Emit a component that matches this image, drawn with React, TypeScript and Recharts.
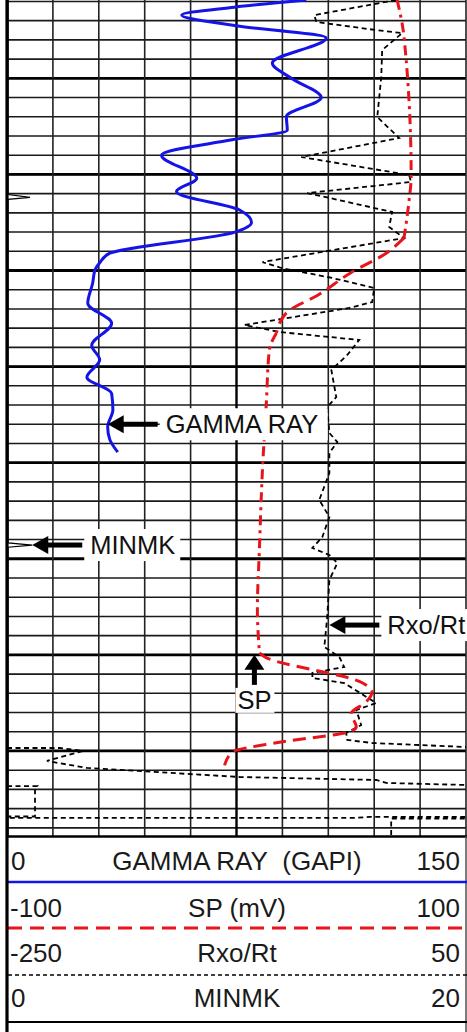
import { LineChart, Line, XAxis, YAxis, ReferenceLine, ReferenceDot } from 'recharts'

// depth in ft, minor grid every 2 ft, heavy line every 10 ft
const depthDomain = [1.85, 88.85]
const depthLines = Array.from({ length: 44 }, (_, i) => 2 + i * 2)
const depthMajor = [10, 20, 30, 40, 50, 60, 70, 80]
const grLines = [15, 30, 45, 60, 90, 105, 120, 135, 150]
const grMajor = [75]

// [depth, value]
const gammaRay = [
  [1.85, 97.8], [2.6, 74.3], [3.4, 57.1], [4.5, 74.3], [5.8, 104.3], [8.4, 86.7],
  [10.0, 92.9], [12.0, 102.7], [14.0, 91.3], [15.4, 91.6], [16.4, 73.5], [18.0, 50.5],
  [20.4, 62.0], [21.8, 55.4], [23.7, 76.0], [25.0, 79.9], [26.0, 74.5], [28.2, 33.6],
  [29.2, 30.3], [30.0, 28.7], [31.3, 28.0], [33.4, 26.4], [35.5, 34.2], [37.8, 27.7],
  [39.3, 30.3], [41.1, 26.1], [42.8, 34.2], [44.5, 34.6], [46.3, 32.9], [47.6, 33.6],
  [48.9, 36.2],
]

// SP split where the log switches between dash-dot and dashed trace
const spTop = [
  [1.85, 70.0], [5.7, 73.0], [20.3, 76.1], [22.7, 75.2], [26.6, 73.0],
]
const spBreak = [
  [26.6, 73.0], [28.2, 65.2], [30.2, 50.0], [32.6, 35.2], [34.3, 22.2], [36.5, 17.4],
]
const spMid = [
  [36.5, 17.4], [38.3, 14.3], [43.8, 13.0], [50.8, 11.3], [58.9, 10.0], [65.3, 9.1], [69.8, 10.0],
]
const spBase = [
  [69.8, 10.0], [70.2, 12.2], [72.9, 54.8], [73.9, 59.1], [74.9, 56.5], [76.1, 50.0],
  [77.5, 52.2], [78.0, 49.1], [79.1, 18.7], [80.1, -1.7], [81.5, -5.2],
]

const rxoRt = [
  [1.85, 4.3], [3.42, -49.1], [4.14, -47.8], [4.98, -8.7], [5.29, 8.3], [7.06, -4.8],
  [9.87, -5.4], [14.03, -8.0], [16.21, 6.3], [18.19, -57.6], [20.06, 12.8], [20.79, 14.1],
  [21.94, -53.7], [23.91, 1.7], [25.48, -0.2], [26.62, 9.6], [29.12, -83.0], [29.74, -70.7],
  [30.78, -37.4], [31.82, -10.0], [33.28, -11.3], [33.9, -26.3], [35.67, -94.8], [36.4, -72.0],
  [37.23, -19.8], [38.79, -27.6], [40.36, -38.0], [43.17, -34.8], [44.21, -40.7], [46.91, -39.3],
  [47.85, -34.1], [48.99, -39.3], [51.07, -39.3], [53.88, -45.9], [55.65, -39.3], [57.73, -43.9],
  [58.88, -50.4], [59.61, -39.3], [60.44, -34.1], [62.21, -39.3], [66.06, -40.7], [69.18, -42.6],
  [70.22, -32.8], [71.26, -29.6], [71.88, -50.4], [72.41, -50.4], [72.93, -29.6], [75.01, -8.7],
  [75.74, -21.7], [77.3, -18.5], [78.13, -28.3], [78.86, -27.6], [79.17, -11.3], [79.59, 50.0],
]

// backup scales once the curve runs off the track
const rxoBackup = [
  [79.69, 50], [79.69, 84.6], [80.0, 99.6], [81.04, 76.1], [81.77, 102.2], [82.71, 202.0],
  [83.02, 291.3], [83.33, 297.8], [83.54, 350],
]
const rxoBackup2 = [
  [83.65, 350], [83.65, 369.6], [83.85, 368.3], [86.82, 368.3], [86.82, 350], [86.97, 350],
  [86.97, 575.7], [86.87, 586.7], [86.87, 650], [87.03, 650], [87.03, 601.1], [88.85, 601.1],
]

const minmk = [
  [1.85, 0.05], [22.1, 0.05], [22.4, 1.0], [22.6, 0.05], [58.35, 0.05], [58.57, 1.1],
  [58.8, 0.05], [88.85, 0.05],
]

const rows = (pts: number[][]) => pts.map(([d, v]) => ({ d, v }))

const FONT = '"Liberation Sans", Arial, sans-serif'
const BLUE = '#1414e6'
const RED = '#e8141c'

const LeftArrow = (props: any) => {
  const { cx, cy, text, boxW } = props
  return (
    <g>
      <rect x={cx + 52} y={cy - 16} width={boxW} height={32} fill="#fff" />
      <polygon points={`${cx},${cy} ${cx + 16},${cy - 9} ${cx + 16},${cy + 9}`} fill="#000" />
      <rect x={cx + 15} y={cy - 2.5} width={35} height={5} fill="#000" />
      <text x={cx + 58} y={cy + 8.5} fontSize={25.5} fontFamily={FONT} fill="#111">{text}</text>
    </g>
  )
}

const UpArrow = (props: any) => {
  const { cx, cy, text } = props
  return (
    <g>
      <rect x={cx - 19} y={cy + 33} width={39} height={25} fill="#fff" />
      <polygon points={`${cx},${cy} ${cx - 10},${cy + 15} ${cx + 10},${cy + 15}`} fill="#000" />
      <rect x={cx - 2.5} y={cy + 14} width={5} height={16} fill="#000" />
      <text x={cx} y={cy + 54} fontSize={25.5} fontFamily={FONT} fill="#111" textAnchor="middle">{text}</text>
    </g>
  )
}

const spLine = (pts: number[][], dash: string, key: string) => (
  <Line key={key} data={rows(pts)} xAxisId="sp" dataKey="v" type="monotone" stroke={RED} strokeWidth={3}
    strokeDasharray={dash} dot={false} activeDot={false} isAnimationActive={false} />
)

export default function App() {
  return (
    <div style={{ position: 'absolute', left: 0, top: 0, width: 467, height: 1032, background: '#fff' }}>
      <LineChart width={467} height={836} layout="vertical" margin={{ top: 0, right: 1, bottom: 0, left: 7 }}>
        <XAxis xAxisId="gr" type="number" domain={[0, 150]} hide allowDataOverflow />
        <XAxis xAxisId="sp" type="number" domain={[-100, 100]} hide allowDataOverflow />
        <XAxis xAxisId="rxo" type="number" domain={[-250, 50]} hide allowDataOverflow />
        <XAxis xAxisId="rxo2" type="number" domain={[50, 350]} hide allowDataOverflow />
        <XAxis xAxisId="rxo3" type="number" domain={[350, 650]} hide allowDataOverflow />
        <XAxis xAxisId="mk" type="number" domain={[0, 20]} hide allowDataOverflow />
        <YAxis type="number" dataKey="d" domain={depthDomain} hide allowDataOverflow />

        {depthLines.map((d) => (
          <ReferenceLine key={'h' + d} xAxisId="gr" y={d} stroke="#1a1a1a" strokeWidth={1.6} />
        ))}
        {depthMajor.map((d) => (
          <ReferenceLine key={'H' + d} xAxisId="gr" y={d} stroke="#000" strokeWidth={2.8} />
        ))}
        {grLines.map((x) => (
          <ReferenceLine key={'v' + x} xAxisId="gr" x={x} stroke="#222" strokeWidth={1.6} />
        ))}
        {grMajor.map((x) => (
          <ReferenceLine key={'V' + x} xAxisId="gr" x={x} stroke="#000" strokeWidth={2.4} />
        ))}

        <Line data={rows(minmk)} xAxisId="mk" dataKey="v" type="linear" stroke="#000" strokeWidth={1.2} dot={false} activeDot={false} isAnimationActive={false} />
        <Line data={rows(rxoRt)} xAxisId="rxo" dataKey="v" type="linear" stroke="#000" strokeWidth={1.8} strokeDasharray="5 3.5" dot={false} activeDot={false} isAnimationActive={false} />
        <Line data={rows(rxoBackup)} xAxisId="rxo2" dataKey="v" type="linear" stroke="#000" strokeWidth={1.8} strokeDasharray="5 3.5" dot={false} activeDot={false} isAnimationActive={false} />
        <Line data={rows(rxoBackup2)} xAxisId="rxo3" dataKey="v" type="linear" stroke="#000" strokeWidth={1.8} strokeDasharray="5 3.5" dot={false} activeDot={false} isAnimationActive={false} />
        {spLine(spTop, '10 5 3 5', 'sp1')}
        {spLine(spBreak, '13 7', 'sp2')}
        {spLine(spMid, '10 5 3 5', 'sp3')}
        {spLine(spBase, '13 7', 'sp4')}
        <Line data={rows(gammaRay)} xAxisId="gr" dataKey="v" type="monotone" stroke={BLUE} strokeWidth={3} dot={false} activeDot={false} isAnimationActive={false} />

        <ReferenceDot xAxisId="gr" x={32.9} y={46.0} shape={(p: any) => <LeftArrow {...p} text="GAMMA RAY" boxW={168} />} />
        <ReferenceDot xAxisId="mk" x={1.1} y={58.57} shape={(p: any) => <LeftArrow {...p} text="MINMK" boxW={96} />} />
        <ReferenceDot xAxisId="rxo" x={-39.3} y={66.9} shape={(p: any) => <LeftArrow {...p} text="Rxo/Rt" boxW={90} />} />
        <ReferenceDot xAxisId="sp" x={7.8} y={70.0} shape={(p: any) => <UpArrow {...p} text="SP" />} />
      </LineChart>

      <svg width={467} height={1032} style={{ position: 'absolute', left: 0, top: 0, pointerEvents: 'none' }}>
        <line x1={7} x2={467} y1={836.5} y2={836.5} stroke="#000" strokeWidth={2.5} />
        <line x1={466} x2={466} y1={836} y2={1032} stroke="#444" strokeWidth={1.4} />
        <g fontFamily={FONT} fontSize={26} fill="#1a1a1a">
          <text x={11} y={870}>0</text>
          <text x={237} y={870} textAnchor="middle">{'GAMMA RAY\u00a0 (GAPI)'}</text>
          <text x={460} y={870} textAnchor="end">150</text>
          <text x={10} y={917}>-100</text>
          <text x={237} y={917} textAnchor="middle">SP (mV)</text>
          <text x={460} y={917} textAnchor="end">100</text>
          <text x={10} y={962}>-250</text>
          <text x={237} y={962} textAnchor="middle">Rxo/Rt</text>
          <text x={460} y={962} textAnchor="end">50</text>
          <text x={11} y={1007}>0</text>
          <text x={237} y={1007} textAnchor="middle">MINMK</text>
          <text x={460} y={1007} textAnchor="end">20</text>
        </g>
        <line x1={7} x2={467} y1={882} y2={882} stroke={BLUE} strokeWidth={2.5} />
        <line x1={8} x2={467} y1={928} y2={928} stroke={RED} strokeWidth={3} strokeDasharray="14 8" />
        <line x1={8} x2={467} y1={975} y2={975} stroke="#000" strokeWidth={1.6} strokeDasharray="4 3" />
        <line x1={7} x2={467} y1={1022} y2={1022} stroke="#000" strokeWidth={2} />
        <line x1={7} x2={7} y1={0} y2={1032} stroke="#000" strokeWidth={3.2} />
      </svg>
    </div>
  )
}
